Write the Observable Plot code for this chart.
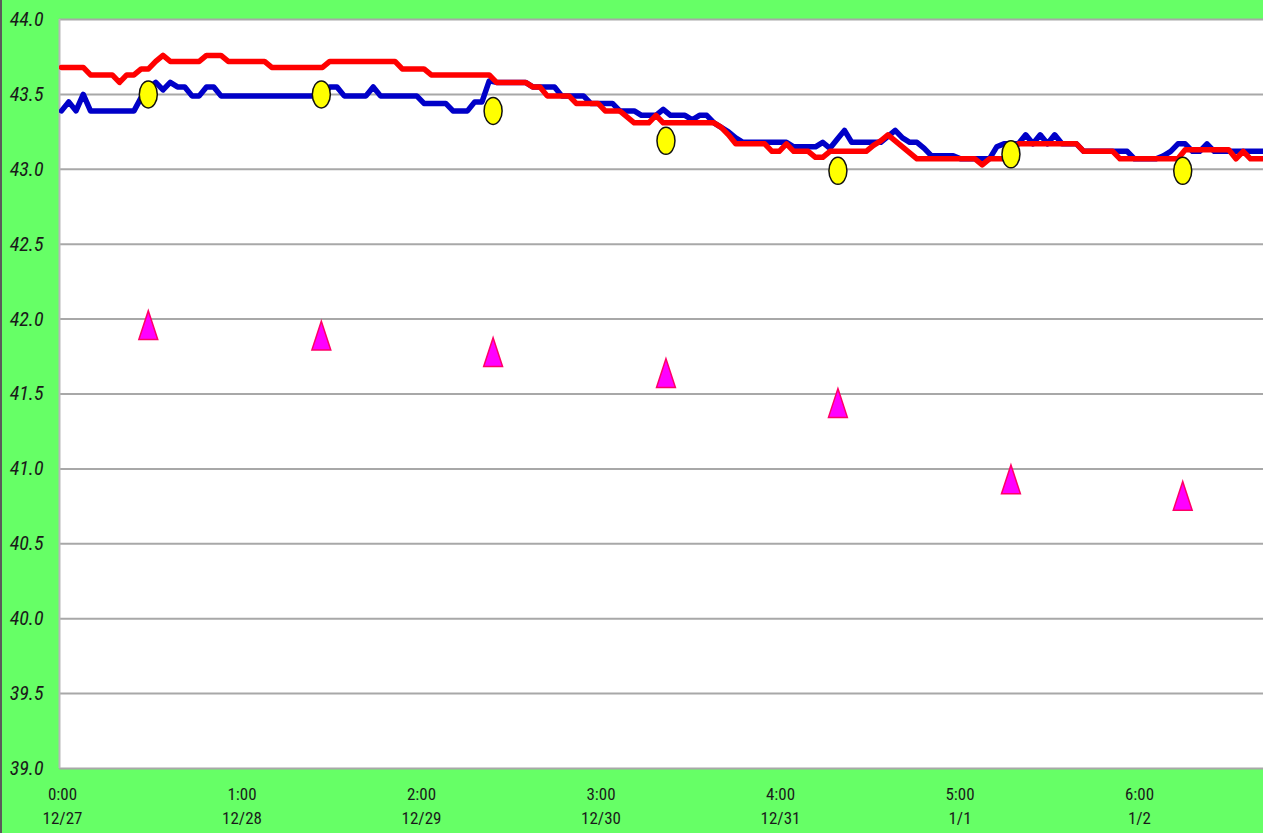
<!DOCTYPE html>
<html><head><meta charset="utf-8">
<script src="https://cdn.jsdelivr.net/npm/d3@7"></script>
<script src="https://cdn.jsdelivr.net/npm/@observablehq/plot@0.6"></script>
<style>
html,body{margin:0;padding:0;background:#66ff66;}
#wrap{position:relative;width:1263px;height:833px;overflow:hidden;}
#edge{position:absolute;left:0;top:0;width:2px;height:833px;background:#5a5a5a;}
#wrap svg{display:block;}
</style></head><body><div id="wrap"><div id="edge"></div></div>
<script>
// Series values (regular samples)
const blueSeries = [
43.39,43.45,43.39,43.50,43.39,43.39,43.39,43.39,43.39,43.39,
43.39,43.48,43.54,43.58,43.53,43.58,43.55,43.55,43.49,43.49,
43.55,43.55,43.49,43.49,43.49,43.49,43.49,43.49,43.49,43.49,
43.49,43.49,43.49,43.49,43.49,43.49,43.49,43.55,43.55,43.49,
43.49,43.49,43.49,43.55,43.49,43.49,43.49,43.49,43.49,43.49,
43.44,43.44,43.44,43.44,43.39,43.39,43.39,43.45,43.45,43.59,
43.58,43.58,43.58,43.58,43.58,43.55,43.55,43.55,43.55,43.49,
43.49,43.49,43.49,43.44,43.44,43.44,43.44,43.39,43.39,43.39,
43.36,43.36,43.36,43.40,43.36,43.36,43.36,43.33,43.36,43.36,
43.31,43.28,43.25,43.21,43.18,43.18,43.18,43.18,43.18,43.18,
43.18,43.15,43.15,43.15,43.15,43.18,43.14,43.20,43.26,43.18,
43.18,43.18,43.18,43.18,43.22,43.26,43.21,43.18,43.18,43.14,
43.09,43.09,43.09,43.09,43.07,43.07,43.07,43.07,43.07,43.15,
43.17,43.17,43.17,43.23,43.17,43.23,43.17,43.23,43.17,43.17,
43.17,43.12,43.12,43.12,43.12,43.12,43.12,43.12,43.07,43.07,
43.07,43.07,43.09,43.12,43.17,43.17,43.12,43.12,43.17,43.12,
43.12,43.12,43.12,43.12,43.12,43.12,43.12
];
const redSeries = [
43.68,43.68,43.68,43.68,43.63,43.63,43.63,43.63,43.58,43.63,
43.63,43.67,43.67,43.72,43.76,43.72,43.72,43.72,43.72,43.72,
43.76,43.76,43.76,43.72,43.72,43.72,43.72,43.72,43.72,43.68,
43.68,43.68,43.68,43.68,43.68,43.68,43.68,43.72,43.72,43.72,
43.72,43.72,43.72,43.72,43.72,43.72,43.72,43.67,43.67,43.67,
43.67,43.63,43.63,43.63,43.63,43.63,43.63,43.63,43.63,43.63,
43.58,43.58,43.58,43.58,43.58,43.55,43.55,43.49,43.49,43.49,
43.49,43.44,43.44,43.44,43.44,43.39,43.39,43.39,43.35,43.31,
43.31,43.31,43.36,43.31,43.31,43.31,43.31,43.31,43.31,43.31,
43.31,43.28,43.23,43.17,43.17,43.17,43.17,43.17,43.12,43.12,
43.17,43.12,43.12,43.12,43.08,43.08,43.12,43.12,43.12,43.12,
43.12,43.12,43.16,43.19,43.23,43.19,43.15,43.11,43.07,43.07,
43.07,43.07,43.07,43.07,43.07,43.07,43.07,43.03,43.07,43.07,
43.07,43.12,43.17,43.17,43.17,43.17,43.17,43.17,43.17,43.17,
43.17,43.12,43.12,43.12,43.12,43.12,43.07,43.07,43.07,43.07,
43.07,43.07,43.07,43.07,43.07,43.13,43.13,43.13,43.13,43.13,
43.13,43.13,43.07,43.12,43.07,43.07,43.07
];
const sampleStart = -0.0056;   // time of first sample (days)
const sampleStep = 0.04039;    // sampling interval (days)

// Marker series
const markerDays = [0.478, 1.442, 2.399, 3.362, 4.320, 5.284, 6.241];
const circleValues = [43.50, 43.50, 43.39, 43.19, 42.99, 43.10, 42.99];
const triangleValues = [41.96, 41.89, 41.78, 41.64, 41.44, 40.93, 40.82];

// Axis ticks
const tickDays = [0, 1, 2, 3, 4, 5, 6];
const hourLabels = ["0:00", "1:00", "2:00", "3:00", "4:00", "5:00", "6:00"];
const dateLabels = ["12/27", "12/28", "12/29", "12/30", "12/31", "1/1", "1/2"];
const yTicks = [39.0, 39.5, 40.0, 40.5, 41.0, 41.5, 42.0, 42.5, 43.0, 43.5, 44.0];
const xDomain = [-0.0167, 6.691];
const yDomain = [39, 44];

const toRows = arr => arr.map((v, i) => ({t: sampleStart + i * sampleStep, v}));
const blueRows = toRows(blueSeries);
const redRows = toRows(redSeries);
const circles = markerDays.map((t, i) => ({t, v: circleValues[i]}));
const triangles = markerDays.map((t, i) => ({t, v: triangleValues[i]}));

const ellipseSymbol = {
  draw(ctx, size) {
    const r = Math.sqrt(size / Math.PI);
    const rx = r, ry = r * 1.5, k = 0.5523;
    ctx.moveTo(rx, 0);
    ctx.bezierCurveTo(rx, k * ry, k * rx, ry, 0, ry);
    ctx.bezierCurveTo(-k * rx, ry, -rx, k * ry, -rx, 0);
    ctx.bezierCurveTo(-rx, -k * ry, -k * rx, -ry, 0, -ry);
    ctx.bezierCurveTo(k * rx, -ry, rx, -k * ry, rx, 0);
    ctx.closePath();
  }
};
const triangleSymbol = {
  draw(ctx, size) {
    const r = Math.sqrt(size / Math.PI);
    const w = r * 2.1, h = r * 3.2;
    ctx.moveTo(0, -h / 2);
    ctx.lineTo(w / 2, h / 2);
    ctx.lineTo(-w / 2, h / 2);
    ctx.closePath();
  }
};

const font = '"Liberation Sans Narrow", "Arial Narrow", "Roboto Condensed", "DejaVu Sans Condensed", sans-serif';

const chart = Plot.plot({
  width: 1263, height: 833,
  marginLeft: 59, marginRight: 0, marginTop: 19, marginBottom: 65,
  style: {background: "#66ff66", fontFamily: font, color: "#1a1a1a", overflow: "visible"},
  x: {domain: xDomain},
  y: {domain: yDomain},
  marks: [
    Plot.frame({fill: "white", stroke: "none"}),
    Plot.gridY(yTicks, {stroke: "#a8a8a8", strokeWidth: 2, strokeOpacity: 1}),
    Plot.ruleX([xDomain[0]], {stroke: "#b8b8b8", strokeWidth: 2}),
    Plot.axisY(yTicks, {tickSize: 0, tickPadding: 16, tickFormat: d3.format(".1f"), fontSize: 20, fontStyle: "italic", fill: "#1a1a1a", label: null}),
    Plot.axisX(tickDays, {tickSize: 0, tickPadding: 14, tickFormat: d => hourLabels[d] + "\n" + dateLabels[d], fontSize: 17, lineHeight: 1.42, fill: "#1a1a1a", label: null}),
    Plot.line(blueRows, {x: "t", y: "v", stroke: "#0000c8", strokeWidth: 5.5, clip: true}),
    Plot.line(redRows, {x: "t", y: "v", stroke: "#ff0000", strokeWidth: 5.5, clip: true}),
    Plot.dot(circles, {x: "t", y: "v", symbol: ellipseSymbol, r: 9, fill: "#ffff00", stroke: "#111111", strokeWidth: 1.5}),
    Plot.dot(triangles, {x: "t", y: "v", symbol: triangleSymbol, r: 9, fill: "#ff00ff", stroke: "#ff0066", strokeWidth: 1.5})
  ]
});
document.getElementById("wrap").appendChild(chart);
</script>
</body></html>
